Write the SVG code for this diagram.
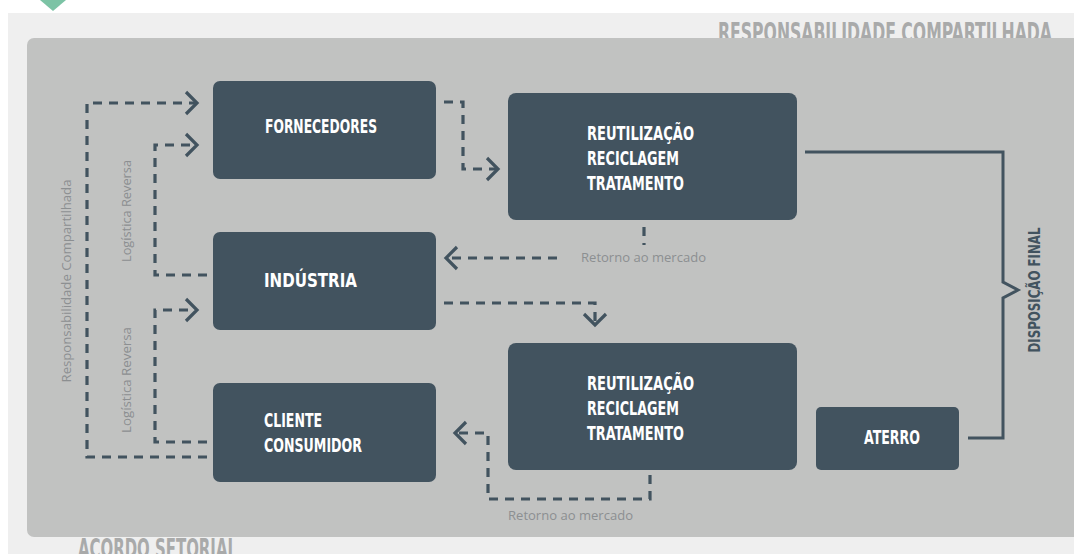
<svg xmlns="http://www.w3.org/2000/svg" width="1074" height="554" viewBox="0 0 1074 554">
<style>
.box{fill:#42535f}
.lbl{font-family:"Liberation Sans Narrow","DejaVu Sans Condensed","Liberation Sans",sans-serif;font-weight:bold;font-size:19px;fill:#ffffff}
.title{font-family:"Liberation Sans Narrow","DejaVu Sans Condensed","Liberation Sans",sans-serif;font-weight:bold;font-size:27px;fill:#a9aaaa}
.side{font-family:"Open Sans","Liberation Sans",sans-serif;font-weight:normal;font-size:13.5px;fill:#8c8f91}
.dash{fill:none;stroke:#42535f;stroke-width:3.2;stroke-dasharray:9 7}
.solid{fill:none;stroke:#42535f;stroke-width:3}
</style>
<defs>
<marker id="chev" markerUnits="userSpaceOnUse" viewBox="0 0 16 26" markerWidth="16" markerHeight="26" refX="13" refY="13" orient="auto">
<path d="M2,2 L13,13 L2,24" fill="none" stroke="#42535f" stroke-width="3.2"/>
</marker>
</defs>
<rect x="0" y="0" width="1074" height="554" fill="#ffffff"/>
<rect x="8" y="13" width="1066" height="541" fill="#efefef"/>
<polygon points="40,0 66,0 53,11" fill="#7cc3a5"/>
<text class="title" x="718" y="42" textLength="334" lengthAdjust="spacingAndGlyphs">RESPONSABILIDADE COMPARTILHADA</text>
<text class="title" x="78" y="558" textLength="159" lengthAdjust="spacingAndGlyphs">ACORDO SETORIAL</text>
<rect x="27" y="38" width="1060" height="499" rx="7" fill="#c1c2c1"/>

<g id="connectors">
<path class="dash" d="M207,457 H87 V103 H197" marker-end="url(#chev)"/>
<path class="dash" d="M207,275 H155 V145 H197" marker-end="url(#chev)"/>
<path class="dash" d="M207,442 H155 V310 H197" marker-end="url(#chev)"/>
<path class="dash" d="M444,102 H463 V169 H498" marker-end="url(#chev)"/>
<path class="dash" d="M644,227 V245"/>
<path class="dash" d="M557,258 H446" marker-end="url(#chev)"/>
<path class="dash" d="M444,303 H595 V325" marker-end="url(#chev)"/>
<path class="dash" d="M650,475 V499 H488 V433 H455" marker-end="url(#chev)"/>
<path class="solid" d="M805,152 H1003 V282 L1018,290 L1003,298 V438 H968"/>
<text class="side" x="581" y="262" textLength="125" lengthAdjust="spacingAndGlyphs">Retorno ao mercado</text>
<text class="side" x="508" y="520" textLength="125" lengthAdjust="spacingAndGlyphs">Retorno ao mercado</text>
<text class="side" transform="translate(71,281) rotate(-90)" text-anchor="middle" textLength="203" lengthAdjust="spacingAndGlyphs">Responsabilidade Compartilhada</text>
<text class="side" transform="translate(131,211) rotate(-90)" text-anchor="middle" textLength="102" lengthAdjust="spacingAndGlyphs">Logística Reversa</text>
<text class="side" transform="translate(131,380) rotate(-90)" text-anchor="middle" textLength="106" lengthAdjust="spacingAndGlyphs">Logística Reversa</text>
<text class="lbl" transform="translate(1040,290) rotate(-90)" text-anchor="middle" style="fill:#42535f;font-size:15px" textLength="125" lengthAdjust="spacingAndGlyphs">DISPOSIÇÃO FINAL</text>
</g>

<g id="fornecedores">
<rect class="box" x="213" y="81" width="223" height="98" rx="7"/>
<text class="lbl" x="265" y="133" textLength="112" lengthAdjust="spacingAndGlyphs">FORNECEDORES</text>
</g>
<g id="industria">
<rect class="box" x="213" y="232" width="223" height="98" rx="7"/>
<text class="lbl" x="264" y="287" textLength="93" lengthAdjust="spacingAndGlyphs">INDÚSTRIA</text>
</g>
<g id="cliente">
<rect class="box" x="213" y="383" width="223" height="99" rx="7"/>
<text class="lbl" x="264" y="427" textLength="58" lengthAdjust="spacingAndGlyphs">CLIENTE</text>
<text class="lbl" x="264" y="452" textLength="98" lengthAdjust="spacingAndGlyphs">CONSUMIDOR</text>
</g>
<g id="tratamento-1">
<rect class="box" x="508" y="93" width="289" height="127" rx="8"/>
<text class="lbl" x="587" y="140" textLength="107" lengthAdjust="spacingAndGlyphs">REUTILIZAÇÃO</text>
<text class="lbl" x="587" y="165" textLength="92" lengthAdjust="spacingAndGlyphs">RECICLAGEM</text>
<text class="lbl" x="587" y="190" textLength="97" lengthAdjust="spacingAndGlyphs">TRATAMENTO</text>
</g>
<g id="tratamento-2">
<rect class="box" x="508" y="343" width="289" height="127" rx="8"/>
<text class="lbl" x="587" y="390" textLength="107" lengthAdjust="spacingAndGlyphs">REUTILIZAÇÃO</text>
<text class="lbl" x="587" y="415" textLength="92" lengthAdjust="spacingAndGlyphs">RECICLAGEM</text>
<text class="lbl" x="587" y="440" textLength="97" lengthAdjust="spacingAndGlyphs">TRATAMENTO</text>
</g>
<g id="aterro">
<rect class="box" x="816" y="407" width="143" height="63" rx="5"/>
<text class="lbl" x="864" y="444" textLength="56" lengthAdjust="spacingAndGlyphs">ATERRO</text>
</g>
</svg>
